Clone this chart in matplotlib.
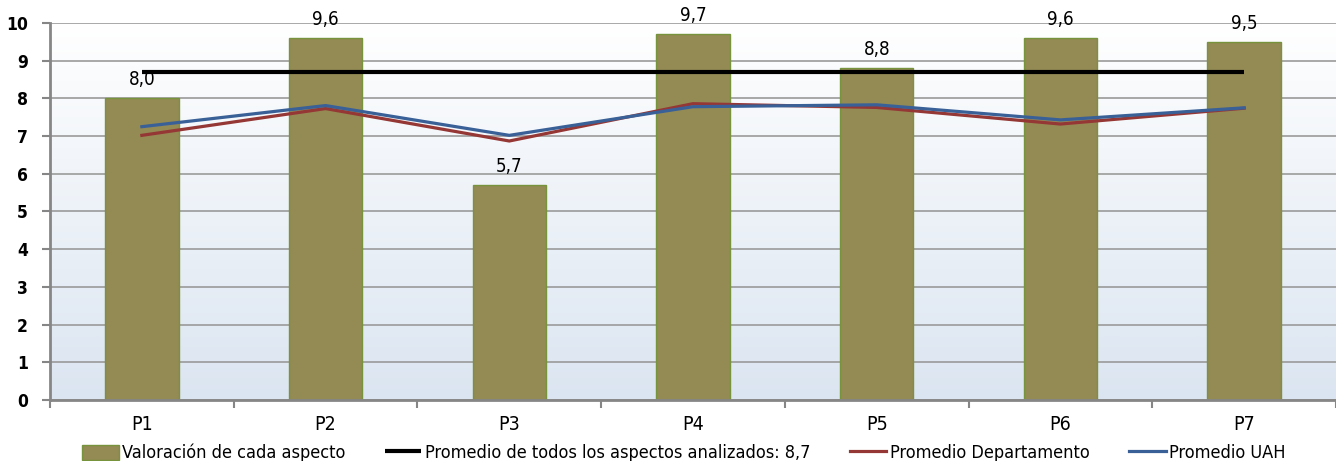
import numpy as np
import matplotlib
matplotlib.use("Agg")
import matplotlib.pyplot as plt

# --- data ---
categories = ["P1", "P2", "P3", "P4", "P5", "P6", "P7"]
valoracion = [8.0, 9.6, 5.7, 9.7, 8.8, 9.6, 9.5]
promedio_global = 8.7
promedio_depto = [7.02, 7.73, 6.87, 7.86, 7.76, 7.32, 7.74]
promedio_uah = [7.25, 7.81, 7.02, 7.78, 7.83, 7.43, 7.75]

plt.rcParams["font.family"] = ["DejaVu Sans"]
plt.rcParams["font.stretch"] = "condensed"

fig = plt.figure(figsize=(13.36, 4.61), dpi=100)
ax = fig.add_axes([50 / 1336, 1 - 400 / 461, 1 - 50 / 1336, 377 / 461])

x = np.arange(len(categories))

# background gradient (white at top -> light blue at bottom)
grad = np.linspace(0, 1, 256).reshape(-1, 1)
top_c = np.array([1.0, 1.0, 1.0])
bot_c = np.array([0xDB, 0xE5, 0xF1]) / 255
img = top_c + (bot_c - top_c) * grad[..., None]
ax.imshow(img, extent=[0, 1, 0, 1], transform=ax.transAxes, aspect="auto", zorder=0.1)

h_bar = ax.bar(x, valoracion, width=0.4, color="#948A54", edgecolor="#77933C",
               linewidth=1, zorder=2, label="Valoración de cada aspecto")
h_glob, = ax.plot([x[0], x[-1]], [promedio_global] * 2, color="black", lw=3, zorder=3,
                  solid_capstyle="butt",
                  label=f"Promedio de todos los aspectos analizados: {promedio_global:.1f}".replace(".", ","))
h_dep, = ax.plot(x, promedio_depto, color="#953735", lw=2.3, zorder=3, label="Promedio Departamento")
h_uah, = ax.plot(x, promedio_uah, color="#3A6098", lw=2.3, zorder=4, label="Promedio UAH")

for xi, v in zip(x, valoracion):
    ax.annotate(f"{v:.1f}".replace(".", ","), (xi, v), xytext=(0, 9.5),
                textcoords="offset points", ha="center", va="baseline", fontsize=13.5)

ax.set_xlim(-0.5, len(categories) - 0.5)
ax.set_ylim(0, 10)
ax.set_yticks(range(0, 11))
ax.set_yticklabels([str(i) for i in range(0, 11)], fontweight="bold", fontsize=12.5)
ax.set_xticks(x)
ax.set_xticklabels(categories, fontsize=14)
ax.set_xticks(np.arange(-0.5, len(categories)), minor=True)
ax.tick_params(axis="x", which="major", length=0, pad=11)
ax.tick_params(axis="x", which="minor", length=6, width=1.5, color="#868686")
ax.tick_params(axis="y", length=6, width=1.5, color="#868686", pad=10)

ax.grid(axis="y", color="#9A9A9A", lw=1.2, zorder=1)
ax.set_axisbelow(True)
for s in ["top", "right"]:
    ax.spines[s].set_visible(False)
for s in ["left", "bottom"]:
    ax.spines[s].set_color("#868686")
    ax.spines[s].set_linewidth(2)
    ax.spines[s].set_zorder(5)

fig.legend(handles=[h_bar, h_glob, h_dep, h_uah],
           loc="center", bbox_to_anchor=(0.512, 1 - 453 / 461), ncol=4, frameon=False,
           fontsize=13, handlelength=2.0, handleheight=0.9, columnspacing=2.2,
           handletextpad=0.2, borderpad=0)

fig.savefig("out.png", dpi=100)
